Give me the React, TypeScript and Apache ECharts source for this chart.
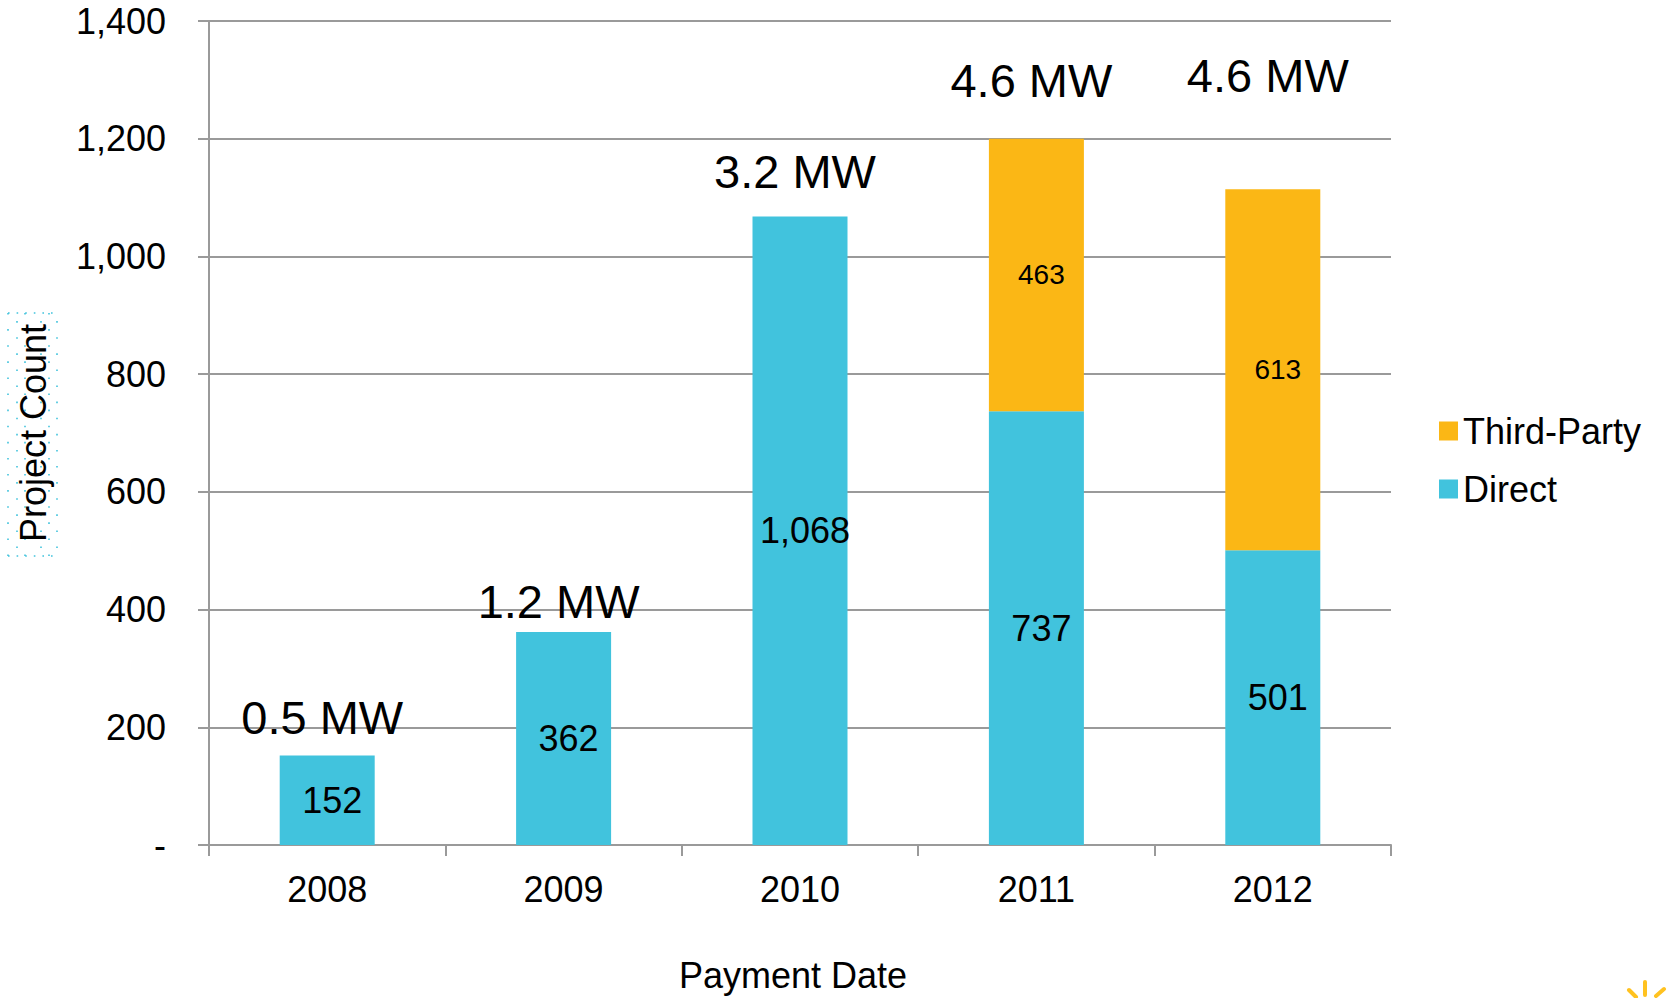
import React, { useEffect, useRef } from "react";
import * as echarts from "echarts";

const categories = ["2008", "2009", "2010", "2011", "2012"];
const directValues = [152, 362, 1068, 737, 501];
const thirdPartyValues: (number | string)[] = ["-", "-", "-", 463, 613];
const mwLabels = ["0.5 MW", "1.2 MW", "3.2 MW", "4.6 MW", "4.6 MW"];
// vertical anchor of each capacity label, in project-count units
const mwLabelAnchor = [216, 413, 1144, 1299, 1307];
const yTicks = { min: 0, max: 1400, interval: 200 };

const FONT = "'Liberation Sans', Arial, sans-serif";
const TEAL = "#41C3DD";
const GOLD = "#FBB715";
const GRAY = "#9a9a9a";

function buildDotGraphics() {
  const els: any[] = [];
  const xs = [8, 17, 25, 41, 49, 57];
  xs.forEach((x, i) => {
    els.push({
      type: "line",
      silent: true,
      shape: { x1: x, y1: 313, x2: x, y2: 556 },
      style: { stroke: TEAL, lineWidth: 1.6, lineDash: [1.6, 14.5], lineDashOffset: i % 2 ? 8 : 0 },
    });
  });
  [313, 556].forEach((y) => {
    els.push({
      type: "line",
      silent: true,
      shape: { x1: 8, y1: y, x2: 58, y2: y },
      style: { stroke: TEAL, lineWidth: 1.6, lineDash: [1.6, 7] },
    });
  });
  return els;
}

function buildSpark() {
  const c = "#FFC220";
  return [
    { type: "line", silent: true, shape: { x1: 1645, y1: 982, x2: 1645, y2: 995 }, style: { stroke: c, lineWidth: 4, lineCap: "round" } },
    { type: "line", silent: true, shape: { x1: 1629, y1: 990, x2: 1636, y2: 997 }, style: { stroke: c, lineWidth: 4, lineCap: "round" } },
    { type: "line", silent: true, shape: { x1: 1664, y1: 989, x2: 1656, y2: 996 }, style: { stroke: c, lineWidth: 4, lineCap: "round" } },
  ];
}

export default function App() {
  const ref = useRef<HTMLDivElement>(null);

  useEffect(() => {
    if (!ref.current) return;
    const chart = echarts.init(ref.current, null, { renderer: "svg" });
    chart.setOption({
      animation: false,
      backgroundColor: "#ffffff",
      textStyle: { fontFamily: FONT },
      grid: { left: 209, right: 278, top: 21, bottom: 149, containLabel: false },
      legend: {
        data: ["Third-Party", "Direct"],
        orient: "vertical",
        left: 1434,
        top: 406,
        icon: "rect",
        itemWidth: 19,
        itemHeight: 19,
        itemGap: 18,
        textStyle: { fontSize: 36, lineHeight: 40, color: "#000", fontFamily: FONT },
        selectedMode: false,
      },
      xAxis: {
        type: "category",
        data: categories,
        name: "Payment Date",
        nameLocation: "middle",
        nameGap: 112,
        nameTextStyle: { fontSize: 36, color: "#000", fontFamily: FONT, padding: [0, 14, 0, 0] },
        axisLine: { show: true, lineStyle: { color: GRAY, width: 2 } },
        axisTick: { show: true, alignWithLabel: false, length: 11, lineStyle: { color: GRAY, width: 2 } },
        axisLabel: { fontSize: 36, color: "#000", margin: 26, fontFamily: FONT },
      },
      yAxis: {
        type: "value",
        min: yTicks.min,
        max: yTicks.max,
        interval: yTicks.interval,
        name: "Project Count",
        nameLocation: "middle",
        nameRotate: 90,
        nameGap: 158,
        nameTextStyle: { fontSize: 36, color: "#000", fontFamily: FONT },
        axisLine: { show: true, lineStyle: { color: GRAY, width: 2 } },
        axisTick: { show: true, length: 11, lineStyle: { color: GRAY, width: 2 } },
        splitLine: { show: true, lineStyle: { color: GRAY, width: 2 } },
        axisLabel: {
          fontSize: 36,
          color: "#000",
          margin: 43,
          fontFamily: FONT,
          formatter: (v: number) => (v === 0 ? "-" : v.toLocaleString("en-US")),
        },
      },
      series: [
        {
          name: "Direct",
          type: "bar",
          stack: "total",
          barWidth: 95,
          data: directValues,
          itemStyle: { color: TEAL },
          label: {
            show: true,
            position: "inside",
            offset: [5, 0],
            fontSize: 36,
            color: "#000",
            textBorderWidth: 0,
            fontFamily: FONT,
            formatter: (p: any) => Number(p.value).toLocaleString("en-US"),
          },
        },
        {
          name: "Third-Party",
          type: "bar",
          stack: "total",
          barWidth: 95,
          data: thirdPartyValues,
          itemStyle: { color: GOLD },
          label: {
            show: true,
            position: "inside",
            offset: [5, 0],
            fontSize: 28,
            color: "#000",
            textBorderWidth: 0,
            fontFamily: FONT,
            formatter: (p: any) => Number(p.value).toLocaleString("en-US"),
          },
        },
        {
          name: "Capacity",
          type: "scatter",
          symbolSize: 0,
          silent: true,
          z: 5,
          data: mwLabelAnchor.map((v, i) => [i, v]),
          itemStyle: { color: "#000", opacity: 1 },
          label: {
            show: true,
            position: "inside",
            offset: [-5, 0],
            fontSize: 47,
            color: "#000",
            opacity: 1,
            textBorderWidth: 0,
            fontFamily: FONT,
            formatter: (p: any) => mwLabels[p.dataIndex],
          },
        },
      ],
      graphic: [...buildDotGraphics(), ...buildSpark()],
    });
    return () => chart.dispose();
  }, []);

  return (
    <div
      ref={ref}
      style={{ position: "fixed", left: 0, top: 0, width: 1669, height: 998, background: "#fff" }}
    />
  );
}
